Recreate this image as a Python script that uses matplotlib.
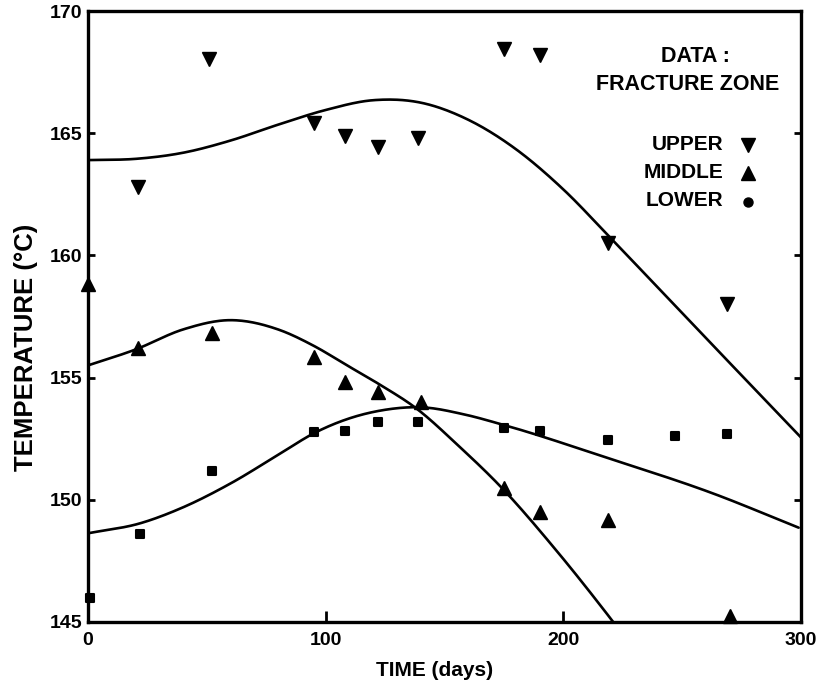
import numpy as np
import matplotlib
matplotlib.use("Agg")
import matplotlib.pyplot as plt
from matplotlib.markers import MarkerStyle

# Measured temperatures in the fracture zone (days, deg C)
upper_t = [21, 51, 95, 108, 122, 139, 175, 190, 219, 269]
upper_T = [162.8, 168.05, 165.4, 164.9, 164.45, 164.8, 168.45, 168.2, 160.5, 158.0]

middle_t = [0, 21, 52, 95, 108, 122, 140, 175, 190, 219, 270]
middle_T = [158.85, 156.2, 156.83, 155.83, 154.8, 154.4, 154.0, 150.47, 149.49, 149.17, 145.25]

lower_t = [1, 22, 52, 95, 108, 122, 139, 175, 190, 219, 247, 269]
lower_T = [146.0, 148.6, 151.19, 152.78, 152.81, 153.19, 153.17, 152.95, 152.81, 152.44, 152.62, 152.68]

# Model curves (knots of the computed temperature histories)
upper_fit_t = [0, 20, 40, 60, 80, 100, 120, 140, 160, 180, 200, 220, 245, 270, 300]
upper_fit_T = [163.9, 163.95, 164.2, 164.7, 165.35, 165.95, 166.35, 166.25, 165.55, 164.35,
               162.7, 160.7, 158.15, 155.6, 152.55]

middle_fit_t = [0, 20, 40, 60, 80, 95, 109, 123, 138, 156, 174, 196, 221, 235]
middle_fit_T = [155.5, 156.15, 156.97, 157.35, 156.97, 156.3, 155.5, 154.7, 153.75,
                152.2, 150.5, 148.05, 145.0, 143.2]

lower_fit_t = [0, 22, 39, 60, 81, 95, 109, 123, 141, 158, 175, 219, 263, 299]
lower_fit_T = [148.63, 149.04, 149.65, 150.67, 151.9, 152.72, 153.3, 153.65, 153.78,
               153.5, 153.06, 151.7, 150.26, 148.86]

x_ticks = [0, 100, 200, 300]
y_ticks = [145, 150, 155, 160, 165, 170]


def smooth(t, v, n=400):
    """Piecewise cubic Hermite curve through the knots."""
    t = np.asarray(t, float)
    v = np.asarray(v, float)
    h = np.diff(t)
    d = np.diff(v) / h
    m = np.empty_like(v)
    m[0], m[-1] = d[0], d[-1]
    m[1:-1] = (d[:-1] * h[1:] + d[1:] * h[:-1]) / (h[:-1] + h[1:])
    ts = np.linspace(t[0], t[-1], n)
    idx = np.clip(np.searchsorted(t, ts) - 1, 0, len(h) - 1)
    s = (ts - t[idx]) / h[idx]
    h00 = 2 * s**3 - 3 * s**2 + 1
    h10 = s**3 - 2 * s**2 + s
    h01 = -2 * s**3 + 3 * s**2
    h11 = s**3 - s**2
    vs = h00 * v[idx] + h10 * h[idx] * m[idx] + h01 * v[idx + 1] + h11 * h[idx] * m[idx + 1]
    return ts, vs


FONT = ["Liberation Sans", "DejaVu Sans"]
plt.rcParams["font.family"] = FONT
plt.rcParams["font.weight"] = "bold"

W, H = 816, 690
fig = plt.figure(figsize=(W / 100, H / 100), dpi=100)
ax = fig.add_axes([88 / W, 1 - 622 / H, (801 - 88) / W, (622 - 11) / H])

for ft, fv in ((upper_fit_t, upper_fit_T), (middle_fit_t, middle_fit_T),
               (lower_fit_t, lower_fit_T)):
    ts, vs = smooth(ft, fv)
    ax.plot(ts, vs, color="black", lw=1.9, solid_capstyle="round")

sq = MarkerStyle("s", joinstyle="round")
ax.plot(upper_t, upper_T, ls="none", marker="v", ms=9.5, color="black", clip_on=False)
ax.plot(middle_t, middle_T, ls="none", marker="^", ms=9.5, color="black", clip_on=False)
ax.plot(lower_t, lower_T, ls="none", marker=sq, ms=5.5, mew=1.5, color="black", clip_on=False)

ax.set_xlim(0, 300)
ax.set_ylim(145, 170)
ax.set_xticks(x_ticks)
ax.set_yticks(y_ticks)
ax.set_xticklabels([str(v) for v in x_ticks], fontsize=14, fontweight="bold")
ax.set_yticklabels([str(v) for v in y_ticks], fontsize=14, fontweight="bold")
ax.tick_params(axis="x", direction="in", length=8, width=2, pad=7, top=False)
ax.tick_params(axis="y", direction="in", length=5, width=2, pad=4, right=True)
for sp in ax.spines.values():
    sp.set_linewidth(2.4)

fig.text(435 / W, 1 - 670 / H, "TIME (days)", ha="center", va="center",
         fontsize=15, fontweight="bold")
fig.text(26 / W, 1 - 347 / H, "TEMPERATURE (\u00b0C)", ha="center", va="center",
         rotation=90, fontsize=18.5, fontweight="bold")

# Key
fig.text(695 / W, 1 - 56 / H, "DATA :", ha="center", va="center", fontsize=15.5, fontweight="bold")
fig.text(688 / W, 1 - 85 / H, "FRACTURE ZONE", ha="center", va="center", fontsize=15.5,
         fontweight="bold")
key = [("UPPER", "v", 144), ("MIDDLE", "^", 172), ("LOWER", "o", 201)]
for label, mk, yp in key:
    fig.text(723 / W, 1 - yp / H, label, ha="right", va="center", fontsize=15, fontweight="bold")
    ms = 9.5 if mk != "o" else 6.5
    ax.plot([748 / W], [1 - (yp + 1) / H], ls="none", marker=mk, ms=ms, color="black",
            transform=fig.transFigure, clip_on=False)

fig.savefig("out.png", dpi=100)
